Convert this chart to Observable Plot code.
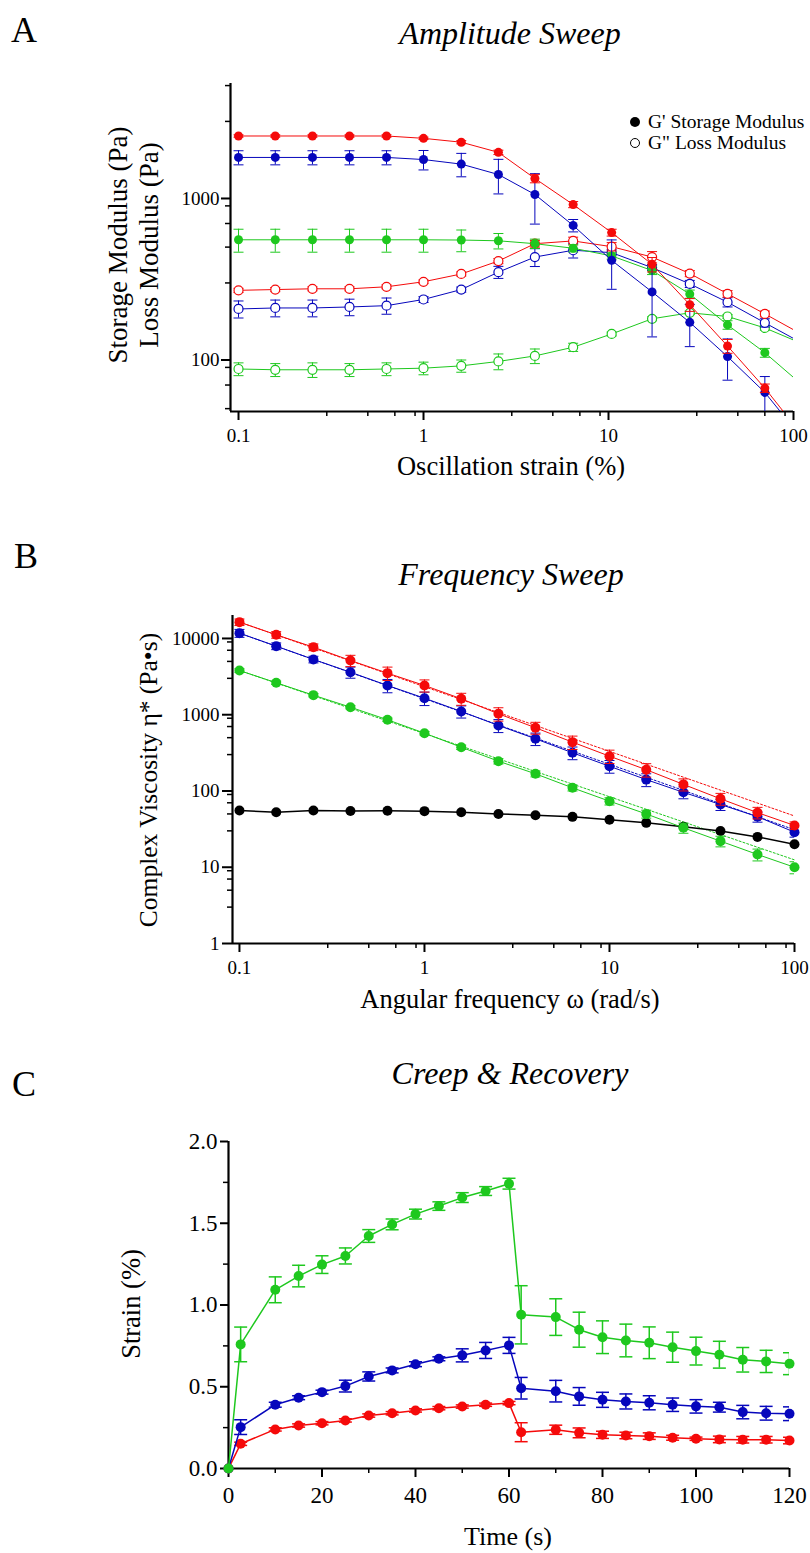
<!DOCTYPE html>
<html>
<head>
<meta charset="utf-8">
<script src="https://cdn.jsdelivr.net/npm/d3@7"></script>
<script src="https://cdn.jsdelivr.net/npm/@observablehq/plot@0.6"></script>
<style>
html,body{margin:0;padding:0;background:#fff;}
#root{position:relative;width:810px;height:1553px;overflow:hidden;font-family:"Liberation Serif","Times New Roman",serif;color:#000;}
#root svg text{font-family:"Liberation Serif","Times New Roman",serif !important;}
.t{position:absolute;white-space:nowrap;line-height:1;}
.p{position:absolute;left:0;}
.mk{position:absolute;border-radius:50%;box-sizing:border-box;}
</style>
</head>
<body>
<div id="root"></div>
<script>
// ---------------- Panel A : amplitude sweep ----------------
const ampX = [0.1,0.158,0.251,0.398,0.631,1,1.6,2.54,4.0,6.44,10.4,17.2,27.5,44,70];
const ampRedStorage   = [2437,2437,2437,2437,2437,2357,2230,1930,1330,917,615,391,220,122,67];
const ampRedStorageSD = [40,40,40,40,40,40,50,60,80,40,30,40,20,12,4];
const ampBlueStorage   = [1795,1795,1795,1795,1795,1742,1632,1407,1059,681,414,264,171,105,63];
const ampBlueStorageSD = [180,180,180,180,180,240,270,340,365,60,140,125,50,30,16];
const ampGreenStorage   = [555,555,555,555,555,555,553,547,525,492,441,358,256,165,111];
const ampGreenStorageSD = [90,90,90,90,90,90,85,60,35,25,20,20,15,10,7];
const ampRedLoss   = [270,273,276,276,284,305,341,410,525,546,503,434,343,257,193];
const ampRedLossSD = [8,8,8,8,8,8,10,15,25,30,30,35,15,12,8];
const ampBlueLoss   = [207,210,210,213,217,237,273,350,434,478,462,373,296,228,170];
const ampBlueLossSD = [25,25,25,25,25,10,10,30,55,50,20,15,15,15,10];
const ampGreenLoss   = [88,87,87,87,88,89,92,98,106,120,145,180,196,186,158];
const ampGreenLossSD = [8,8,9,8,8,8,8,11,11,7,4,5,5,5,5];
// value of each fitted curve where it meets the right edge (strain = 100 %)
const ampCurveEndX = 100;
const ampRedStorageEnd = 40, ampBlueStorageEnd = 38, ampGreenStorageEnd = 78;
const ampRedLossEnd = 154, ampBlueLossEnd = 136, ampGreenLossEnd = 133;
const ampXTicks = [0.1,1,10,100];
const ampXMinor = [0.3,0.5,0.7,0.9,3,5,7,9,30,50,70,90];
const ampYTicks = [100,1000];
const ampYMinor = [50,70,90,300,500,700,900,3000,5000];

// ---------------- Panel B : frequency sweep ----------------
const freqX = [0.1,0.158,0.251,0.398,0.631,1,1.58,2.51,3.98,6.31,10,15.8,25.1,39.8,63.1,100];
const freqRed   = [16370,11170,7690,5140,3510,2420,1619,1029,675,437,286,190,122,79,52,35.3];
const freqRedSD = [1600,1100,770,870,700,440,290,205,120,87,57,38,22,14,9,4];
const freqBlue   = [11740,7930,5310,3610,2420,1648,1104,723,484,317,211,141,96,66.5,46,28.8];
const freqBlueSD = [1400,800,530,600,480,330,200,140,90,60,40,27,17,11,7,4];
const freqGreen   = [3800,2626,1805,1255,859,573,375,246,168,110,73.5,50,32.9,22,14.7,10];
const freqGreenSD = [200,130,90,60,45,30,25,20,15,10,8,6,5,3.5,2.6,1.8];
const freqBlack = [55.5,52.7,55.5,54.7,55,54.4,52.7,50,48,45.8,42,38.2,33.9,29.8,25,20];
// power-law fit lines (dotted), end values
const freqFitX = [0.1,100];
const freqRedFit = [16400,47];
const freqBlueFit = [11700,31];
const freqGreenFit = [3800,12.5];
const freqXTicks = [0.1,1,10,100];
const freqXMinor = [0.3,0.5,0.7,0.9,3,5,7,9,30,50,70,90];
const freqYTicks = [1,10,100,1000,10000];
const freqYMinor = [3,5,7,9,30,50,70,90,300,500,700,900,3000,5000,7000,9000];

// ---------------- Panel C : creep & recovery ----------------
const creepT = [0,2.6,10,15,20,25,30,35,40,45,50,55,60,62.6,70,75,80,85,90,95,100,105,110,115,120];
const creepGreen   = [0,0.759,1.093,1.177,1.247,1.30,1.422,1.493,1.556,1.605,1.657,1.697,1.742,0.94,0.926,0.849,0.803,0.783,0.769,0.742,0.718,0.696,0.665,0.655,0.641];
const creepGreenSD = [0,0.106,0.079,0.066,0.054,0.049,0.039,0.033,0.03,0.026,0.03,0.027,0.033,0.178,0.112,0.107,0.1,0.1,0.097,0.092,0.085,0.082,0.075,0.068,0.067];
const creepBlue   = [0,0.253,0.39,0.433,0.467,0.504,0.563,0.6,0.638,0.671,0.692,0.722,0.753,0.491,0.473,0.441,0.42,0.41,0.402,0.39,0.38,0.375,0.345,0.338,0.335];
const creepBlueSD = [0,0.045,0.015,0.012,0.012,0.036,0.028,0.015,0.015,0.012,0.04,0.049,0.049,0.066,0.066,0.054,0.046,0.046,0.043,0.041,0.041,0.03,0.041,0.042,0.042];
const creepRed   = [0,0.151,0.239,0.263,0.277,0.294,0.324,0.338,0.355,0.369,0.379,0.39,0.4,0.222,0.237,0.218,0.206,0.202,0.198,0.188,0.182,0.178,0.176,0.176,0.171];
const creepRedSD = [0,0.01,0.01,0.01,0.01,0.01,0.01,0.01,0.01,0.01,0.01,0.01,0.01,0.058,0.028,0.03,0.022,0.02,0.02,0.015,0.01,0.02,0.02,0.02,0.02];
const creepXTicks = [0,20,40,60,80,100,120];
const creepXMinor = [10,30,50,70,90,110];
const creepYTicks = [0,0.5,1.0,1.5,2.0];
const creepYMinor = [0.25,0.75,1.25,1.75];

// ---------------- drawing ----------------
const FONT = '"Liberation Serif","Times New Roman",serif';
const RED = "#f50a0a", BLUE = "#0606bc", GREEN = "#1ec81e", BLACK = "#000";
const capSymbol = {draw(ctx, size){const r = Math.sqrt(size/Math.PI); ctx.moveTo(-r,0); ctx.lineTo(r,0);}};

function seriesMarks(xs, ys, sds, color, o = {}) {
  const data = xs.map((x,i) => ({x, y: ys[i], sd: sds ? sds[i] : 0}));
  const bars = data.filter(d => d.sd > 0);
  const lineData = o.endX != null ? data.concat([{x: o.endX, y: o.endY}]) : data;
  const bw = o.bw ?? 1, capR = o.capR ?? 5;
  const lo = d => (o.log ? Math.max(d.y - d.sd, 1e-3) : d.y - d.sd);
  return [
    Plot.line(lineData, {x:"x", y:"y", stroke: color, strokeWidth: o.lw ?? 1, clip: true}),
    Plot.ruleX(bars, {x:"x", y1: lo, y2: d => d.y + d.sd, stroke: color, strokeWidth: bw, clip: true}),
    Plot.dot(bars, {x:"x", y: d => d.y + d.sd, r: capR, symbol: capSymbol, stroke: color, fill: "none", strokeWidth: bw, clip: true}),
    Plot.dot(bars, {x:"x", y: lo, r: capR, symbol: capSymbol, stroke: color, fill: "none", strokeWidth: bw, clip: true}),
    Plot.dot(data, {x:"x", y:"y", r: o.r ?? 4.5, fill: o.open ? "white" : color, stroke: color, strokeWidth: o.open ? 1.2 : 0})
  ];
}

function axes(o) {
  return [
    Plot.axisY({ticks: o.yTicks, tickSize: o.yTickSize ?? 9, tickPadding: o.yPad ?? 2, strokeWidth: 2, tickFormat: o.yFmt, label: null, fontSize: o.fs, fontFamily: FONT}),
    Plot.axisY({ticks: o.yMinor, tickSize: 5, strokeWidth: 1.5, tickFormat: () => "", label: null}),
    Plot.axisX({ticks: o.xTicks, tickSize: 9, tickPadding: o.xPad ?? 8, strokeWidth: 2, tickFormat: o.xFmt, label: null, fontSize: o.fs, fontFamily: FONT}),
    Plot.axisX({ticks: o.xMinor, tickSize: 5, strokeWidth: 1.5, tickFormat: () => "", label: null}),
    Plot.ruleX([o.x0], {strokeWidth: 2.2}),
    Plot.ruleY([o.y0], {strokeWidth: 2.2})
  ];
}

const root = document.getElementById("root");
function place(el, top){ el.classList.add("p"); el.style.top = top + "px"; root.appendChild(el); }
function text(str, cx, cy, size, extra = {}) {
  const d = document.createElement("div");
  d.className = "t";
  d.textContent = str;
  d.style.left = cx + "px"; d.style.top = cy + "px";
  d.style.fontSize = size + "px";
  d.style.transform = "translate(-50%,-50%)" + (extra.rotate ? " rotate(-90deg)" : "");
  if (extra.italic) d.style.fontStyle = "italic";
  root.appendChild(d);
  return d;
}

const styleOf = fs => ({fontFamily: FONT, fontSize: fs + "px", color: "#000", background: "transparent", overflow: "visible"});

// Panel A
const ampXDom = [0.0905, 100], ampYDom = [48, 5150];
const plotA = Plot.plot({
  width: 810, height: 500, marginTop: 83, marginBottom: 89, marginLeft: 230, marginRight: 17,
  x: {type: "log", domain: ampXDom}, y: {type: "log", domain: ampYDom},
  style: styleOf(19),
  marks: [
    ...axes({xTicks: ampXTicks, xMinor: ampXMinor, yTicks: ampYTicks, yMinor: ampYMinor, x0: ampXDom[0], y0: ampYDom[0], fs: 19, xFmt: d => String(d), yFmt: d => String(d)}),
    ...seriesMarks(ampX, ampGreenLoss, ampGreenLossSD, GREEN, {open: true, log: true, endX: ampCurveEndX, endY: ampGreenLossEnd}),
    ...seriesMarks(ampX, ampBlueLoss, ampBlueLossSD, BLUE, {open: true, log: true, endX: ampCurveEndX, endY: ampBlueLossEnd}),
    ...seriesMarks(ampX, ampRedLoss, ampRedLossSD, RED, {open: true, log: true, endX: ampCurveEndX, endY: ampRedLossEnd}),
    ...seriesMarks(ampX, ampGreenStorage, ampGreenStorageSD, GREEN, {log: true, endX: ampCurveEndX, endY: ampGreenStorageEnd}),
    ...seriesMarks(ampX, ampBlueStorage, ampBlueStorageSD, BLUE, {log: true, endX: ampCurveEndX, endY: ampBlueStorageEnd}),
    ...seriesMarks(ampX, ampRedStorage, ampRedStorageSD, RED, {log: true, endX: ampCurveEndX, endY: ampRedStorageEnd})
  ]
});
place(plotA, 0);

// Panel B
const freqXDom = [0.0917, 100], freqYDom = [1, 20000];
const plotB = Plot.plot({
  width: 810, height: 510, marginTop: 95, marginBottom: 87, marginLeft: 232, marginRight: 16,
  x: {type: "log", domain: freqXDom}, y: {type: "log", domain: freqYDom},
  style: styleOf(19),
  marks: [
    ...axes({xTicks: freqXTicks, xMinor: freqXMinor, yTicks: freqYTicks, yMinor: freqYMinor, x0: freqXDom[0], y0: freqYDom[0], fs: 19, yTickSize: 10, yPad: 3, xFmt: d => String(d), yFmt: d => String(d)}),
    Plot.line(freqFitX.map((x,i) => ({x, y: freqGreenFit[i]})), {x:"x", y:"y", stroke: GREEN, strokeWidth: 1, strokeDasharray: "2,2"}),
    Plot.line(freqFitX.map((x,i) => ({x, y: freqBlueFit[i]})), {x:"x", y:"y", stroke: BLUE, strokeWidth: 1, strokeDasharray: "2,2"}),
    Plot.line(freqFitX.map((x,i) => ({x, y: freqRedFit[i]})), {x:"x", y:"y", stroke: RED, strokeWidth: 1, strokeDasharray: "2,2"}),
    ...seriesMarks(freqX, freqBlack, null, BLACK, {log: true, lw: 1.5, r: 5}),
    ...seriesMarks(freqX, freqGreen, freqGreenSD, GREEN, {log: true, r: 5}),
    ...seriesMarks(freqX, freqBlue, freqBlueSD, BLUE, {log: true, r: 5}),
    ...seriesMarks(freqX, freqRed, freqRedSD, RED, {log: true, r: 5})
  ]
});
place(plotB, 520);

// Panel C
const creepXDom = [0, 120], creepYDom = [0, 2];
const plotC = Plot.plot({
  width: 810, height: 513, marginTop: 101, marginBottom: 85, marginLeft: 228, marginRight: 21,
  x: {domain: creepXDom}, y: {domain: creepYDom},
  style: styleOf(23),
  marks: [
    ...axes({xTicks: creepXTicks, xMinor: creepXMinor, yTicks: creepYTicks, yMinor: creepYMinor, x0: creepXDom[0], y0: creepYDom[0], fs: 23, yTickSize: 8, yPad: 3, xPad: 9, xFmt: d => String(d), yFmt: d => d.toFixed(1)}),
    ...seriesMarks(creepT, creepRed, creepRedSD, RED, {lw: 1.5, bw: 1.5, r: 5, capR: 6.5}),
    ...seriesMarks(creepT, creepBlue, creepBlueSD, BLUE, {lw: 1.5, bw: 1.5, r: 5, capR: 6.5}),
    ...seriesMarks(creepT, creepGreen, creepGreenSD, GREEN, {lw: 1.5, bw: 1.5, r: 5, capR: 6.5})
  ]
});
place(plotC, 1040);

// ---------------- texts ----------------
text("A", 24, 30, 36);
text("Amplitude Sweep", 510, 33, 32, {italic: true});
text("Storage Modulus (Pa)", 118, 245, 27, {rotate: true});
text("Loss Modulus (Pa)", 149, 245, 27, {rotate: true});
text("Oscillation strain (%)", 511, 466, 26.5);

text("B", 26, 556, 36);
text("Frequency Sweep", 511, 574, 32, {italic: true});
text("Complex Viscosity η* (Pa•s)", 149, 780, 25.5, {rotate: true});
text("Angular frequency ω (rad/s)", 510, 999, 26.5);

text("C", 24, 1084, 36);
text("Creep & Recovery", 510, 1073, 32, {italic: true});
text("Strain (%)", 131, 1304, 26.5, {rotate: true});
text("Time (s)", 508, 1537, 26);

// legend of panel A
function marker(cx, cy, open) {
  const m = document.createElement("div");
  m.className = "mk";
  m.style.left = (cx - 5) + "px"; m.style.top = (cy - 5) + "px";
  m.style.width = "10px"; m.style.height = "10px";
  m.style.background = open ? "#fff" : "#000";
  m.style.border = open ? "1.5px solid #000" : "none";
  root.appendChild(m);
}
marker(635, 122, false);
marker(635, 143, true);
const l1 = text("G' Storage Modulus", 0, 122, 19.5); l1.style.left = "648px"; l1.style.transform = "translate(0,-50%)";
const l2 = text('G" Loss Modulus', 0, 143, 19.5); l2.style.left = "648px"; l2.style.transform = "translate(0,-50%)";
</script>
</body>
</html>
